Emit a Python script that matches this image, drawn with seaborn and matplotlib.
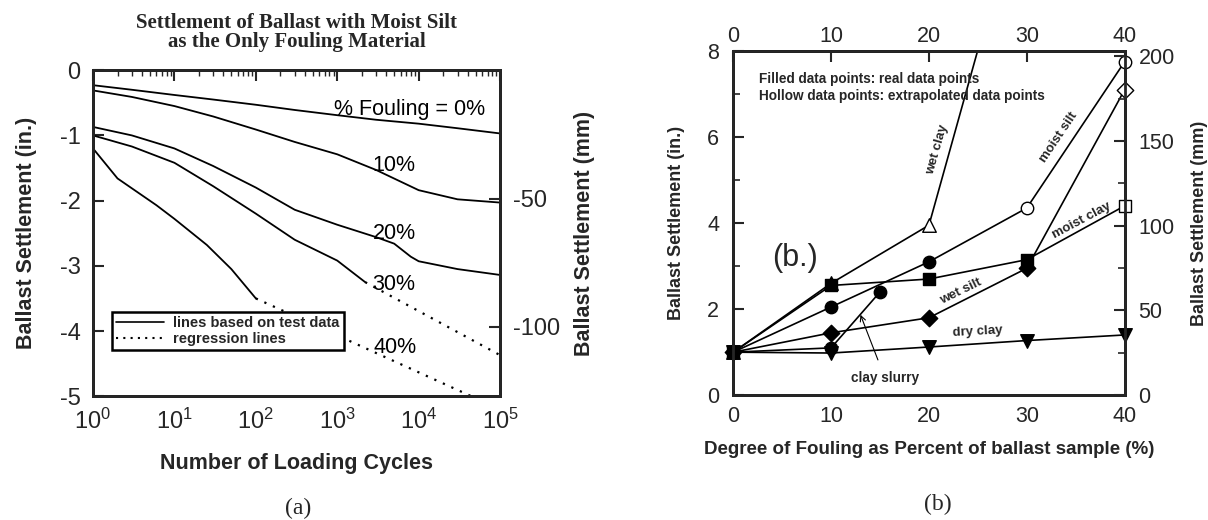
import numpy as np
import pandas as pd
import matplotlib
matplotlib.use("Agg")
import matplotlib.pyplot as plt
from matplotlib.lines import Line2D
from matplotlib.ticker import LogLocator, MultipleLocator, NullFormatter
import seaborn as sns

sns.set_theme(style="white")
plt.rcParams["font.family"] = ["Liberation Sans", "DejaVu Sans"]
plt.rcParams["axes.unicode_minus"] = False

# ---------------- Panel (a): settlement vs loading cycles -----------------
cycles_std = [1, 3, 10, 30, 100, 300, 1000, 3000, 10000, 30000, 100000]
settle_0 = [-0.23, -0.30, -0.38, -0.45, -0.53, -0.61, -0.69, -0.76, -0.82, -0.89, -0.97]
settle_10 = [-0.31, -0.41, -0.55, -0.71, -0.91, -1.10, -1.29, -1.53, -1.84, -1.98, -2.03]
cycles_20 = [1, 3, 10, 30, 100, 300, 1000, 3000, 5000, 8000, 10000, 30000, 100000]
settle_20 = [-0.87, -1.00, -1.20, -1.47, -1.80, -2.14, -2.37, -2.56, -2.66, -2.86, -2.93, -3.05, -3.14]
cycles_30 = [1, 3, 10, 30, 100, 300, 1000, 2200]
settle_30 = [-1.00, -1.17, -1.42, -1.78, -2.20, -2.60, -2.92, -3.25]
cycles_40 = [1, 2, 6, 10, 25, 50, 100]
settle_40 = [-1.20, -1.66, -2.07, -2.28, -2.68, -3.05, -3.50]
reg_cycles_30 = [2200, 100000]
reg_settle_30 = [-3.25, -4.37]
reg_cycles_40 = [100, 100000]
reg_settle_40 = [-3.50, -5.20]

curve_labels = ["% Fouling = 0%", "10%", "20%", "30%", "40%"]
label_cycles = [7800, 5000, 5100, 5000, 5100]
label_settle = [-0.61, -1.46, -2.50, -3.28, -4.26]

# ---------------- Panel (b): settlement vs degree of fouling --------------
pct = [0, 10, 20, 30, 40]
wet_clay_pct = [0, 10, 20, 30]
wet_clay = [1.00, 2.60, 3.95, 12.1]
wet_clay_real = [True, True, False, False]
moist_silt = [1.00, 2.05, 3.10, 4.35, 7.75]
moist_silt_real = [True, True, True, False, False]
moist_clay = [1.00, 2.55, 2.70, 3.15, 4.40]
moist_clay_real = [True, True, True, True, False]
wet_silt = [1.00, 1.45, 1.80, 2.95, 7.10]
wet_silt_real = [True, True, True, True, False]
dry_clay = [1.00, 0.98, 1.12, 1.27, 1.40]
dry_clay_real = [True, True, True, True, True]
slurry_pct = [0, 10, 15]
clay_slurry = [1.00, 1.10, 2.40]
clay_slurry_real = [True, True, True]

fig = plt.figure(figsize=(12.08, 5.2), dpi=100)
fig.patch.set_facecolor("white")

bold = dict(fontweight="bold")

# ======================= Panel (a) =======================
axa = fig.add_axes([0.077, 0.238, 0.337, 0.627])
for xs, ys in [(cycles_std, settle_0), (cycles_std, settle_10), (cycles_20, settle_20),
               (cycles_30, settle_30), (cycles_40, settle_40)]:
    df = pd.DataFrame({"cycles": xs, "settle": ys})
    sns.lineplot(data=df, x="cycles", y="settle", ax=axa, color="black", lw=1.3,
                 estimator=None, sort=False)
for xs, ys in [(reg_cycles_30, reg_settle_30), (reg_cycles_40, reg_settle_40)]:
    df = pd.DataFrame({"cycles": xs, "settle": ys})
    sns.lineplot(data=df, x="cycles", y="settle", ax=axa, color="black", lw=1.6,
                 linestyle=(0, (1, 3.2)), estimator=None, sort=False)

axa.set_xscale("log")
axa.set_xlim(1, 1e5)
axa.set_ylim(-5, 0)
axa.set_yticks([0, -1, -2, -3, -4, -5])
axa.xaxis.set_major_locator(LogLocator(base=10, numticks=10))
axa.xaxis.set_minor_locator(LogLocator(base=10, subs=np.arange(2, 10), numticks=20))
axa.xaxis.set_minor_formatter(NullFormatter())
axa.tick_params(axis="both", which="major", direction="in", length=8, width=1.5,
                labelsize=17, top=True, right=False, pad=9)
axa.tick_params(axis="x", which="minor", direction="in", length=4, width=1.0, top=True)
for sp in axa.spines.values():
    sp.set_linewidth(2)
    sp.set_color("black")
axa.set_xlabel("Number of Loading Cycles", fontsize=15.5, labelpad=14, **bold)
axa.set_ylabel("Ballast Settlement (in.)", fontsize=15.5, labelpad=16, **bold)

for txt, cx, cy in zip(curve_labels, label_cycles, label_settle):
    axa.text(cx, cy, txt, fontsize=15.5, ha="center", va="center", color="black")

handles = [Line2D([], [], color="black", lw=1.2),
           Line2D([], [], color="black", lw=1.5, linestyle=(0, (1, 2.5)))]
leg = axa.legend(handles, ["lines based on test data", "regression lines"],
                 loc="lower left", bbox_to_anchor=(0.028, 0.118), frameon=True,
                 fancybox=False, framealpha=1, edgecolor="black", fontsize=10.5,
                 handlelength=3.3, borderpad=0.3, labelspacing=0.15, handletextpad=0.6)
leg.get_frame().set_linewidth(1.8)
for t in leg.get_texts():
    t.set_fontweight("bold")

axa2 = axa.twinx()
axa2.set_ylim(-5 * 25.4, 0)
axa2.set_yticks([-50, -100])
axa2.tick_params(axis="y", direction="in", length=8, width=1.5, labelsize=17, pad=9)
axa2.set_ylabel("Ballast Settlement (mm)", fontsize=15.5, labelpad=10, **bold)
axa2.grid(False)
for sp in axa2.spines.values():
    sp.set_linewidth(2)

axa.set_title("Settlement of Ballast with Moist Silt\nas the Only Fouling Material",
              fontfamily="Liberation Serif", fontweight="bold", fontsize=15,
              linespacing=0.88, pad=17)

# ======================= Panel (b) =======================
axb = fig.add_axes([0.607, 0.240, 0.324, 0.662])
series = [
    (wet_clay_pct, wet_clay, wet_clay_real, "^"),
    (pct, moist_silt, moist_silt_real, "o"),
    (pct, moist_clay, moist_clay_real, "s"),
    (pct, wet_silt, wet_silt_real, "D"),
    (pct, dry_clay, dry_clay_real, "v"),
    (slurry_pct, clay_slurry, clay_slurry_real, "o"),
]
for xs, ys, real, mk in series:
    df = pd.DataFrame({"pct": xs, "settle": ys, "real": real})
    sns.lineplot(data=df, x="pct", y="settle", ax=axb, color="black", lw=1.2,
                 estimator=None, sort=False, zorder=2)
    msize = 80 if mk in ("o", "s") else 95
    if mk == "D":
        msize = 70
    # markers beyond the plotted range are not shown
    shown = df[df["settle"] <= 8]
    filled = shown[shown["real"]]
    hollow = shown[~shown["real"]]
    if len(filled):
        sns.scatterplot(data=filled, x="pct", y="settle", ax=axb, marker=mk, s=msize,
                        color="black", edgecolor="black", linewidth=1.0, zorder=3,
                        clip_on=False)
    if len(hollow):
        sns.scatterplot(data=hollow, x="pct", y="settle", ax=axb, marker=mk, s=msize,
                        color="white", edgecolor="black", linewidth=1.0, zorder=4,
                        clip_on=False)

axb.set_xlim(0, 40)
axb.set_ylim(0, 8)
axb.set_xticks([0, 10, 20, 30, 40])
axb.set_yticks([0, 2, 4, 6, 8])
axb.yaxis.set_minor_locator(MultipleLocator(1))
axb.tick_params(axis="both", which="major", direction="in", length=8, width=1.5,
                labelsize=15.5, top=True, right=False, pad=10)
axb.tick_params(axis="x", which="major", pad=8)
axb.tick_params(axis="y", which="minor", direction="in", length=5, width=1.2)
for sp in axb.spines.values():
    sp.set_linewidth(2)
    sp.set_color("black")
axb.set_xlabel("Degree of Fouling as Percent of ballast sample (%)", fontsize=13.5,
               labelpad=10, **bold)
axb.set_ylabel("Ballast Settlement (in.)", fontsize=13, labelpad=16, **bold)

top_ax = axb.secondary_xaxis("top")
top_ax.set_xticks([0, 10, 20, 30, 40])
top_ax.tick_params(axis="x", direction="in", length=0, labelsize=15.5, pad=3)
top_ax.spines["top"].set_linewidth(2)

axb2 = axb.twinx()
axb2.set_ylim(0, 8 * 25.4)
axb2.set_yticks([0, 50, 100, 150, 200])
axb2.yaxis.set_minor_locator(MultipleLocator(25))
axb2.tick_params(axis="y", which="major", direction="in", length=8, width=1.5,
                 labelsize=15.5, pad=10)
axb2.tick_params(axis="y", which="minor", direction="in", length=5, width=1.2)
axb2.set_ylabel("Ballast Settlement (mm)", fontsize=13, labelpad=12, **bold)
axb2.grid(False)
for sp in axb2.spines.values():
    sp.set_linewidth(2)

axb.text(2.6, 7.15, "Filled data points: real data points\nHollow data points: extrapolated data points",
         fontsize=9.8, fontweight="bold", ha="left", va="center", linespacing=1.2)
axb.text(4.0, 3.2, "(b.)", fontsize=22, ha="left", va="center")

lab = dict(fontsize=9.5, fontweight="bold", ha="center", va="center")
axb.text(20.9, 5.7, "wet clay", rotation=74, **lab)
axb.text(33.3, 6.0, "moist silt", rotation=56, **lab)
axb.text(35.6, 4.05, "moist clay", rotation=28, **lab)
axb.text(23.3, 2.4, "wet silt", rotation=26, **lab)
axb.text(25.0, 1.47, "dry clay", rotation=3, **lab)
axb.annotate("clay slurry", xy=(13.0, 1.87), xytext=(15.5, 0.4),
             fontsize=9.8, fontweight="bold", ha="center", va="center",
             arrowprops=dict(arrowstyle="->", color="black", lw=0.8,
                             shrinkA=6, shrinkB=0))

fig.text(0.247, 0.023, "(a)", fontfamily="Liberation Serif", fontsize=17,
         ha="center", va="center")
fig.text(0.776, 0.029, "(b)", fontfamily="Liberation Serif", fontsize=17,
         ha="center", va="center")

fig.savefig("out.png", dpi=100, facecolor="white")
